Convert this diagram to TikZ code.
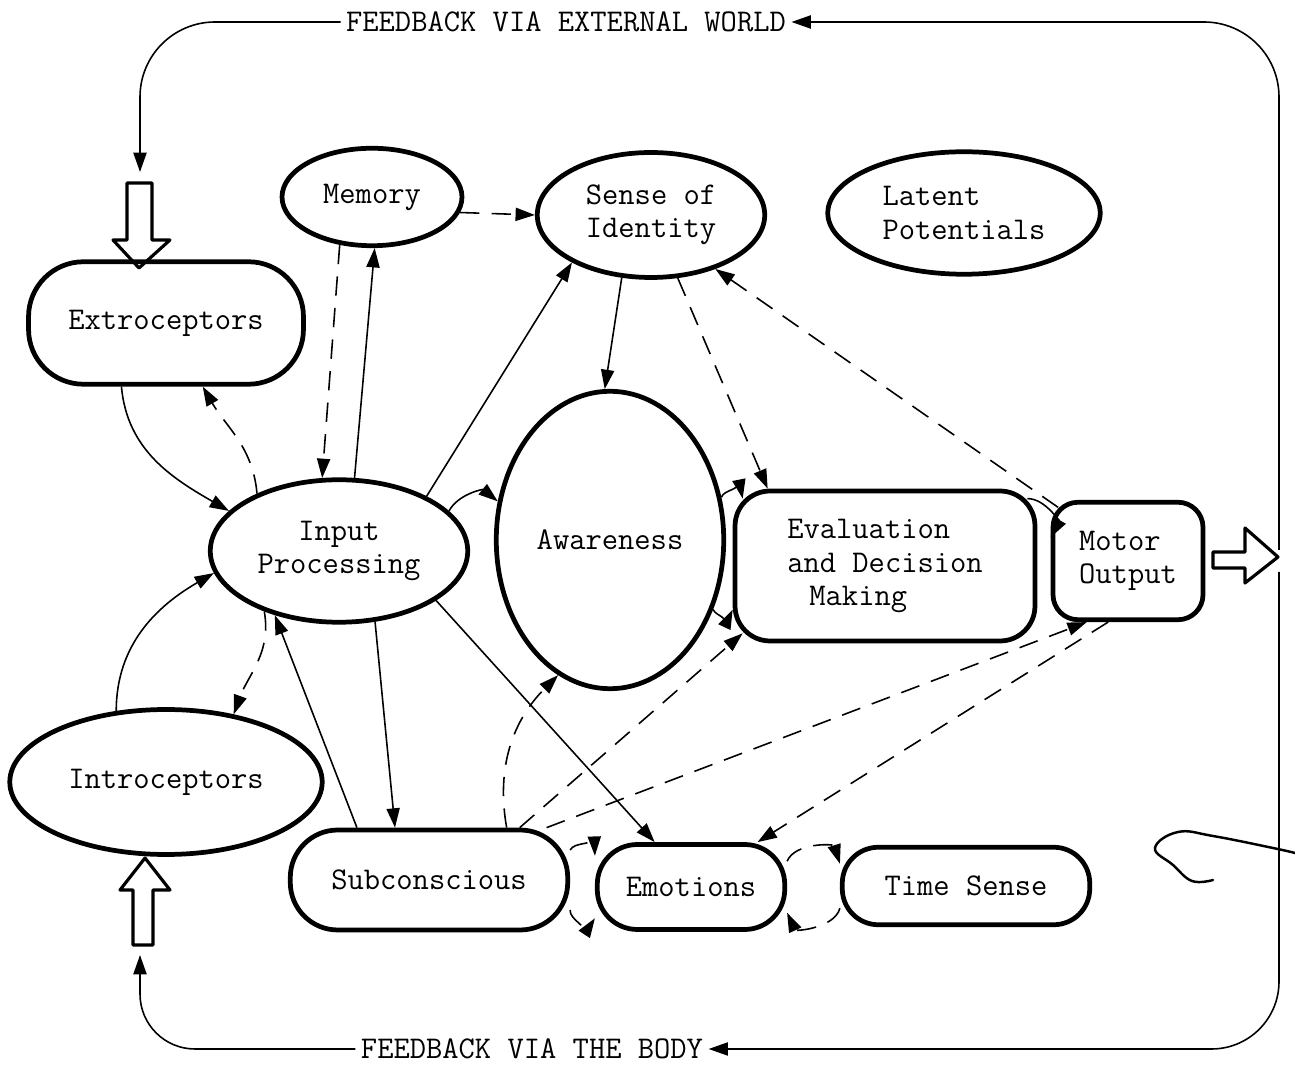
\documentclass[tikz,border=0pt]{standalone}
\usepackage{tikz}
\usetikzlibrary{arrows.meta,shapes.geometric}

\begin{document}
\begin{tikzpicture}[x=0.02cm, y=0.02cm,
    lbl/.style={font=\fontsize{18}{19}\selectfont\ttfamily},
    blob/.style={draw, line width=2.7pt, inner sep=0pt, lbl},
    conn/.style={-{Triangle[length=11pt,width=7.5pt]}, line width=0.9pt},
    dconn/.style={conn, dash pattern=on 11pt off 7pt},
    hollow/.style={draw, line width=1.8pt, line join=round}]

    \useasboundingbox (0,0) rectangle (1295,1065);

    % Top row
    \node[blob, ellipse, minimum width=3.6cm, minimum height=1.95cm] (memory) at (372,868) {Memory};
    \node[blob, ellipse, minimum width=4.55cm, minimum height=2.5cm, align=left] (sense) at (651,850) {Sense of\\Identity};
    \node[blob, ellipse, minimum width=5.45cm, minimum height=2.45cm, align=left] (latent) at (964,852) {Latent\\Potentials};

    % Receptors
    \node[blob, rounded corners=1.1cm, minimum width=5.5cm, minimum height=2.45cm] (extro) at (166,742) {Extroceptors};
    \node[blob, ellipse, minimum width=6.25cm, minimum height=2.9cm] (intro) at (166,283) {Introceptors};

    % Middle row
    \node[blob, ellipse, minimum width=5.15cm, minimum height=2.85cm, align=center] (input) at (339,514) {Input\\Processing};
    \node[blob, ellipse, minimum width=4.55cm, minimum height=5.95cm] (aware) at (610,525) {Awareness};
    \node[blob, rounded corners=0.7cm, minimum width=6cm, minimum height=3cm, align=left] (evalu) at (885,499) {Evaluation\\and Decision\\\hspace*{0.7em}Making};
    \node[blob, rounded corners=0.5cm, minimum width=3cm, minimum height=2.35cm, align=left] (motor) at (1128,504) {Motor\\Output};

    % Bottom row
    \node[blob, rounded corners=0.95cm, minimum width=5.55cm, minimum height=2cm] (subcon) at (429,185) {Subconscious};
    \node[blob, rounded corners=0.8cm, minimum width=3.75cm, minimum height=1.7cm] (emotion) at (691,178) {Emotions};
    \node[blob, rounded corners=0.72cm, minimum width=4.95cm, minimum height=1.55cm] (timesense) at (966,179) {Time Sense};

    % Feedback labels
    \node[lbl, inner sep=3pt] (extfb) at (566,1043) {FEEDBACK VIA EXTERNAL WORLD};
    \node[lbl, inner sep=3pt] (bodyfb) at (532,16) {FEEDBACK VIA THE BODY};
    \coordinate (outtop) at (1279,515);
    \coordinate (outbot) at (1279,493);
    \coordinate (extend) at (140,893);
    \coordinate (bodyend) at (140,110);

    % Hollow arrows
    \draw[hollow] (127,882) -- (152,882) -- (152,825) -- (170,825) -- (139,797) -- (113,825) -- (127,825) -- cycle;
    \draw[hollow] (133,120) -- (153,120) -- (153,175) -- (170,175) -- (145,207) -- (120,175) -- (133,175) -- cycle;
    \draw[hollow] (1213,497) -- (1213,513) -- (1245,513) -- (1245,537) -- (1278,508) -- (1245,482) -- (1245,497) -- cycle;

    % Feedback loops
    \draw[conn, rounded corners=1.5cm] (outtop) |- (extfb.east);
    \draw[conn, rounded corners=1.5cm] (extfb.west) -| (extend);
    \draw[conn, rounded corners=1.35cm] (outbot) |- (bodyfb.east);
    \draw[conn, rounded corners=1.1cm] (bodyfb.west) -| (bodyend);

    % Receptors and input
    \draw[conn] (extro.235) to[out=-85, in=150] (input.160);
    \draw[dconn] (input.145) to[out=95, in=-60] (extro.300);
    \draw[conn] (intro.125) to[out=90, in=210] (input.190);
    \draw[dconn] (input.219) to[out=-80, in=70] (intro.45);

    % Memory and identity
    \draw[dconn] (memory.236) -- (input.103);
    \draw[conn] (input.78) -- (memory.273);
    \draw[dconn] (memory.-10) -- (sense.west);
    \draw[conn] (input.32) -- (sense.211);
    \draw[conn] (sense.245) -- (aware.92);
    \draw[dconn] (sense.293) -- ([xshift=0.7cm]evalu.north west);
    \draw[dconn] ([xshift=0.15cm,yshift=-0.15cm]motor.north west) -- (sense.320);

    % Main chain
    \draw[conn] (input.20) to[bend left=50] (aware.161);
    \draw[conn] (aware.21) to[bend left=75] ([xshift=0.2cm,yshift=-0.2cm]evalu.north west);
    \draw[conn] (aware.326) to[bend right=65] (evalu.196);
    \draw[conn] ([xshift=-0.2cm,yshift=-0.2cm]evalu.north east) to[bend left=60] (motor.163);

    % Subconscious
    \draw[conn] (subcon.144) -- (input.225);
    \draw[conn] (input.297) -- (subcon.123);
    \draw[conn] (input.333) -- (emotion.129);
    \draw[dconn] (subcon.34) to[out=100, in=225] (aware.249);
    \draw[dconn] (subcon.30) -- ([xshift=0.2cm,yshift=0.2cm]evalu.south west);
    \draw[dconn] (subcon.24) -- (motor.236);
    \draw[dconn] (motor.252) -- (emotion.34);

    % Emotions
    \draw[dconn] (subcon.12) to[bend left=75] (emotion.162);
    \draw[dconn] (subcon.348) to[bend right=75] (emotion.198);
    \draw[dconn] (emotion.15) to[bend left=70] (timesense.170);
    \draw[dconn] (timesense.190) to[bend left=70] (emotion.345);

    % Stray mark
    \draw[line width=1.4pt, line cap=round] plot[smooth, tension=0.7] coordinates {(1213,185) (1192,184) (1173,200) (1155,217) (1178,233) (1213,229) (1273,217) (1295,212)};
\end{tikzpicture}
\end{document}
